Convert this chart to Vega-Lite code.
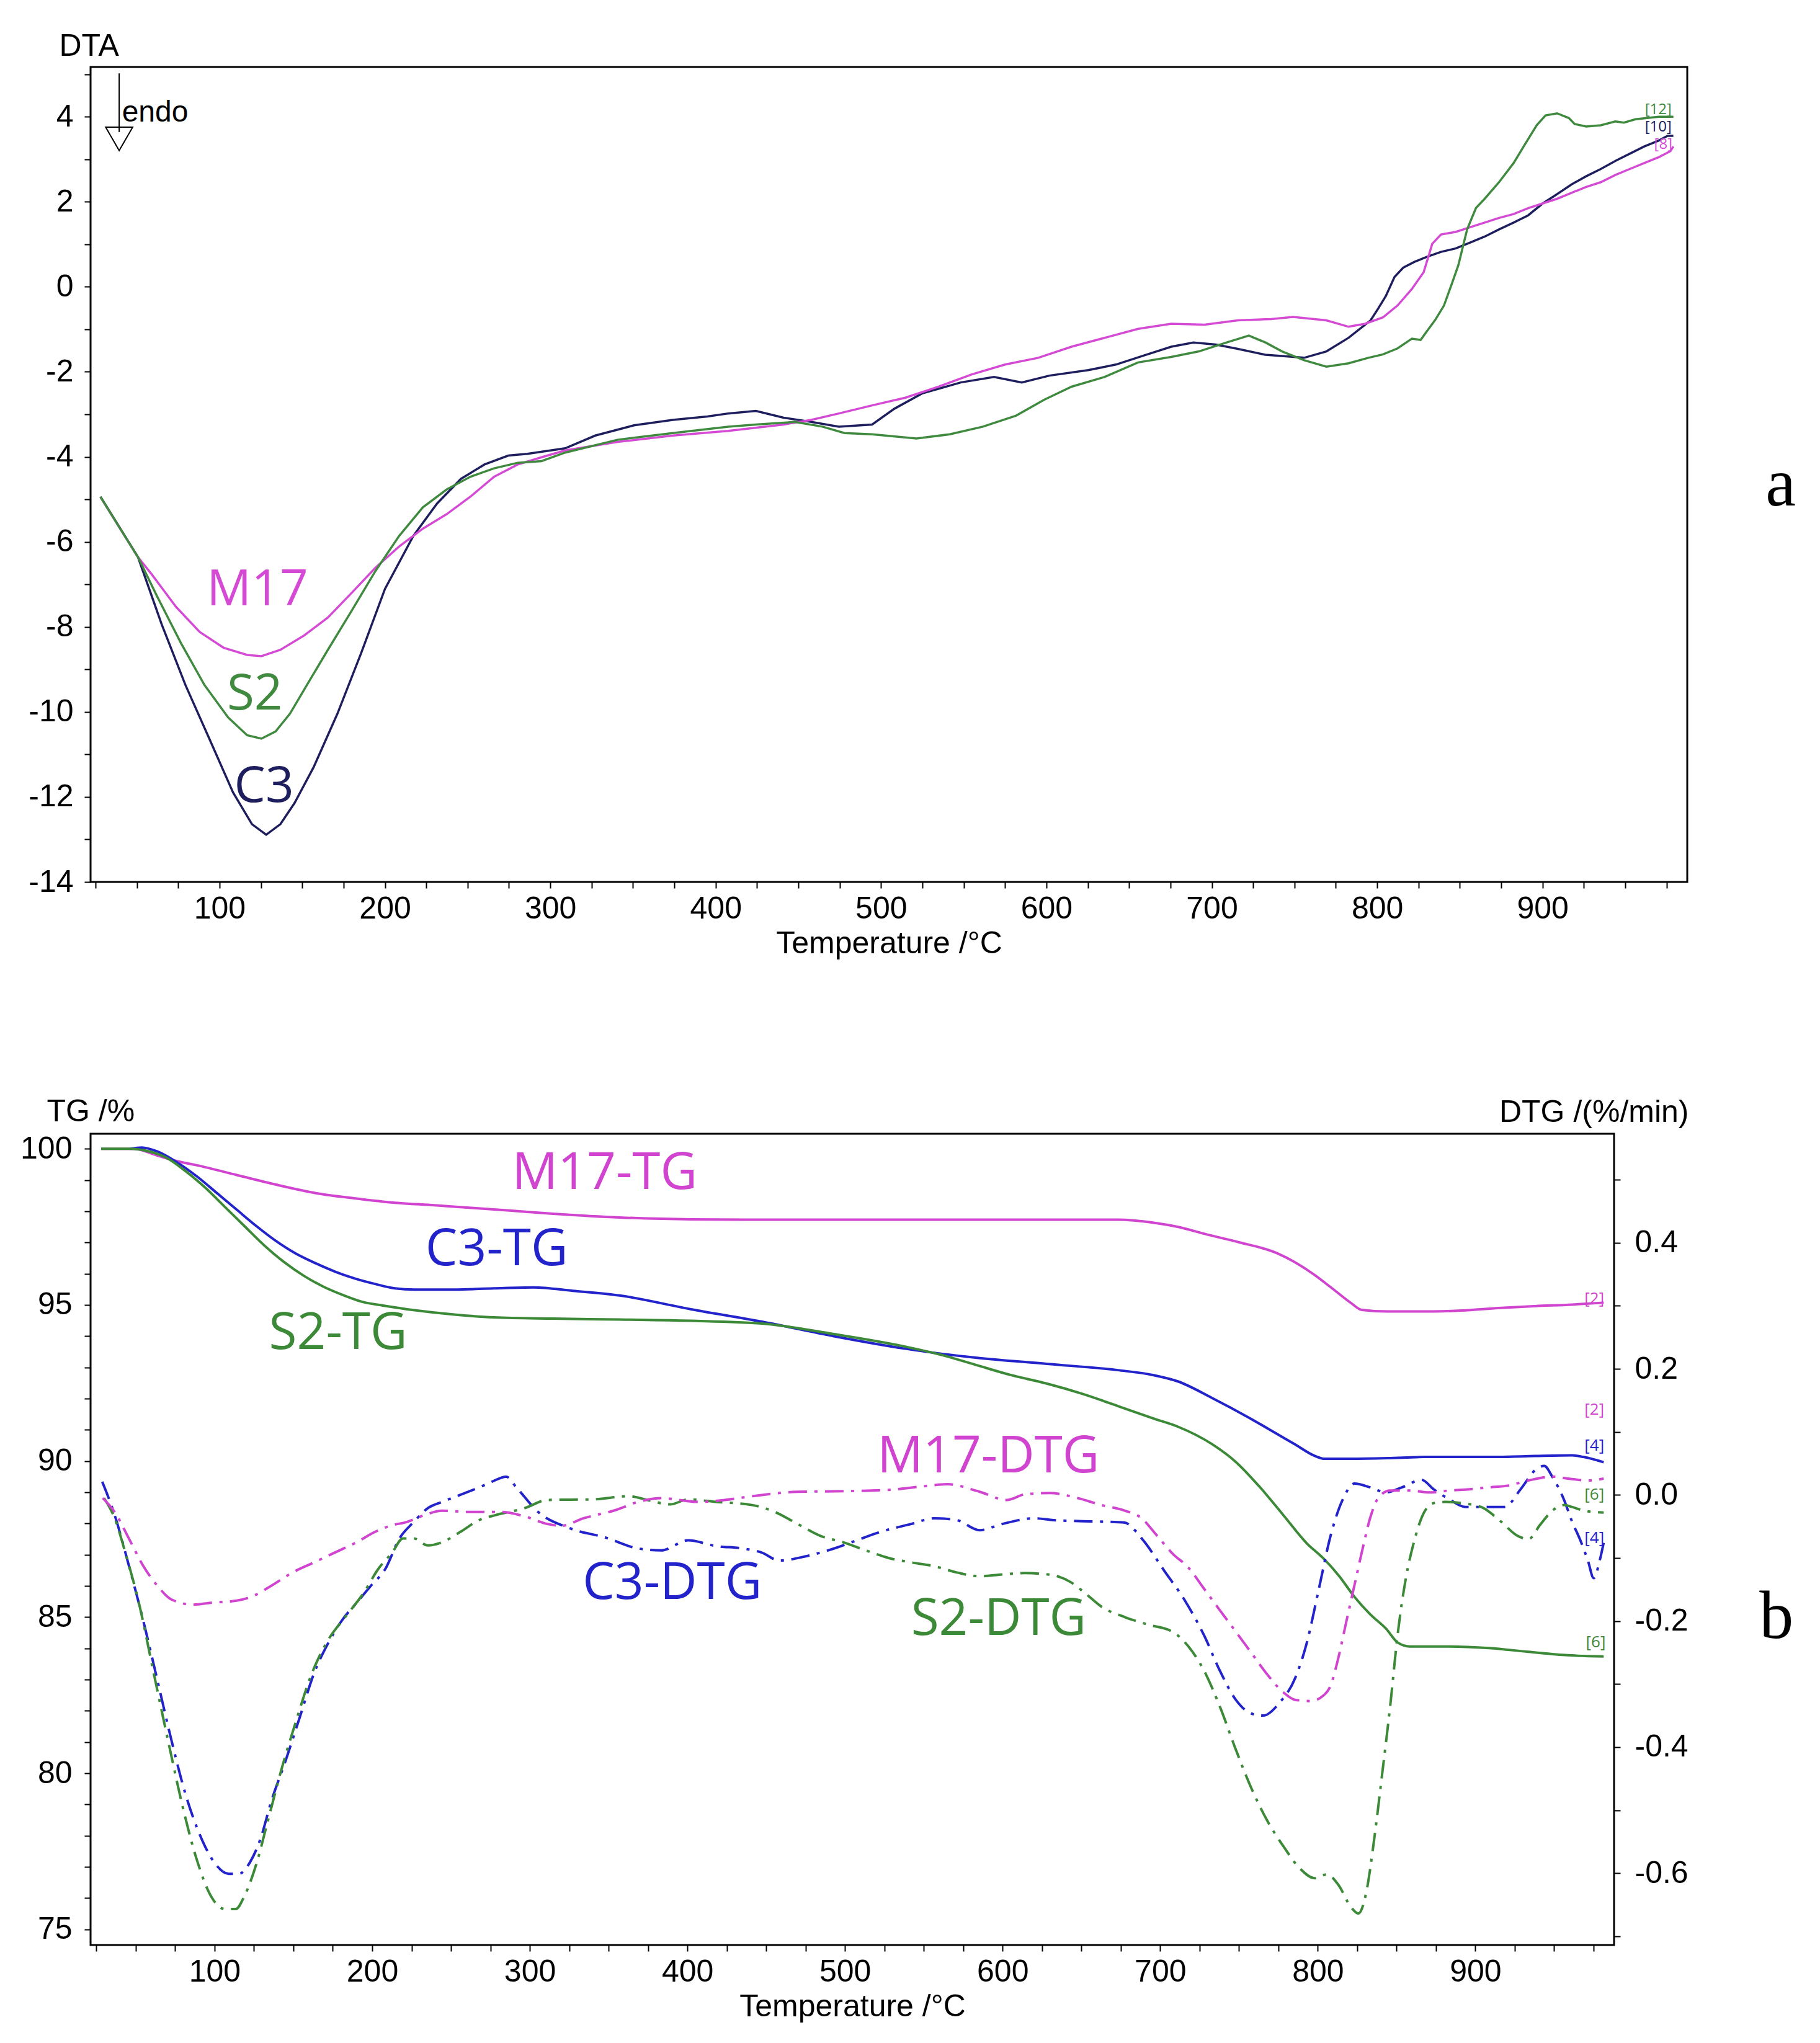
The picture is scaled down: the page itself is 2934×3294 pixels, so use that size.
{
  "$schema": "https://vega.github.io/schema/vega-lite/v6.json",
  "background": "white",
  "padding": {"left": 31, "top": 47, "right": 10, "bottom": 10},
  "bounds": "flush",
  "spacing": 406,
  "resolve": {"scale": {"color": "independent"}},
  "config": {
    "view": {"stroke": "black", "strokeWidth": 3},
    "axis": {
      "domain": false, "grid": false,
      "tickSize": 10, "tickWidth": 2, "tickColor": "black",
      "labelFont": "Liberation Sans", "labelFontSize": 50, "labelColor": "black",
      "titleFont": "Liberation Sans", "titleFontSize": 50, "titleColor": "black", "titleFontWeight": "normal",
      "labelOverlap": false, "labelFlush": false, "labelBound": false
    }
  },
  "datasets": {
    "dta": [
      {"s":"C3","t":28,"v":-4.94},{"s":"C3","t":50.7,"v":-6.36},{"s":"C3","t":65.1,"v":-7.95},{"s":"C3","t":79.4,"v":-9.37},{"s":"C3","t":93.8,"v":-10.63},{"s":"C3","t":108.1,"v":-11.89},{"s":"C3","t":119.6,"v":-12.64},{"s":"C3","t":128.2,"v":-12.89},{"s":"C3","t":136.8,"v":-12.64},{"s":"C3","t":145.4,"v":-12.14},{"s":"C3","t":156.9,"v":-11.3},{"s":"C3","t":171.3,"v":-10.04},{"s":"C3","t":185.6,"v":-8.62},{"s":"C3","t":200,"v":-7.11},{"s":"C3","t":217.2,"v":-5.86},{"s":"C3","t":231.5,"v":-5.1},{"s":"C3","t":245.9,"v":-4.52},{"s":"C3","t":260.2,"v":-4.18},{"s":"C3","t":274.6,"v":-3.97},{"s":"C3","t":286.1,"v":-3.93},{"s":"C3","t":309,"v":-3.8},{"s":"C3","t":327.2,"v":-3.5},{"s":"C3","t":350.6,"v":-3.26},{"s":"C3","t":374.1,"v":-3.13},{"s":"C3","t":395,"v":-3.05},{"s":"C3","t":407.6,"v":-2.98},{"s":"C3","t":424.3,"v":-2.92},{"s":"C3","t":441.1,"v":-3.08},{"s":"C3","t":457.8,"v":-3.18},{"s":"C3","t":474.5,"v":-3.29},{"s":"C3","t":494.6,"v":-3.24},{"s":"C3","t":508,"v":-2.87},{"s":"C3","t":524.8,"v":-2.51},{"s":"C3","t":548.2,"v":-2.25},{"s":"C3","t":568.3,"v":-2.12},{"s":"C3","t":585.1,"v":-2.25},{"s":"C3","t":601.8,"v":-2.09},{"s":"C3","t":625.3,"v":-1.96},{"s":"C3","t":642,"v":-1.83},{"s":"C3","t":658.7,"v":-1.62},{"s":"C3","t":675.5,"v":-1.41},{"s":"C3","t":688.9,"v":-1.31},{"s":"C3","t":702.3,"v":-1.36},{"s":"C3","t":715.7,"v":-1.46},{"s":"C3","t":732.4,"v":-1.6},{"s":"C3","t":755.9,"v":-1.67},{"s":"C3","t":769.3,"v":-1.52},{"s":"C3","t":782.7,"v":-1.2},{"s":"C3","t":796,"v":-0.79},{"s":"C3","t":800,"v":-0.55},{"s":"C3","t":805.2,"v":-0.22},{"s":"C3","t":810.5,"v":0.23},{"s":"C3","t":815.8,"v":0.45},{"s":"C3","t":822.8,"v":0.59},{"s":"C3","t":829.8,"v":0.7},{"s":"C3","t":838.6,"v":0.82},{"s":"C3","t":847.4,"v":0.9},{"s":"C3","t":856.2,"v":1.04},{"s":"C3","t":865,"v":1.18},{"s":"C3","t":873.7,"v":1.35},{"s":"C3","t":882.5,"v":1.51},{"s":"C3","t":891.3,"v":1.68},{"s":"C3","t":900.1,"v":1.96},{"s":"C3","t":908.8,"v":2.18},{"s":"C3","t":917.6,"v":2.41},{"s":"C3","t":926.4,"v":2.6},{"s":"C3","t":935.2,"v":2.77},{"s":"C3","t":944,"v":2.96},{"s":"C3","t":952.7,"v":3.13},{"s":"C3","t":961.5,"v":3.3},{"s":"C3","t":970.3,"v":3.44},{"s":"C3","t":975.6,"v":3.55},{"s":"C3","t":979.1,"v":3.55},
      {"s":"M17","t":28,"v":-4.94},{"s":"M17","t":50.7,"v":-6.36},{"s":"M17","t":59.3,"v":-6.78},{"s":"M17","t":73.7,"v":-7.53},{"s":"M17","t":88,"v":-8.12},{"s":"M17","t":102.4,"v":-8.49},{"s":"M17","t":116.7,"v":-8.66},{"s":"M17","t":125.3,"v":-8.69},{"s":"M17","t":136.8,"v":-8.54},{"s":"M17","t":151.2,"v":-8.2},{"s":"M17","t":165.5,"v":-7.78},{"s":"M17","t":179.9,"v":-7.2},{"s":"M17","t":194.2,"v":-6.61},{"s":"M17","t":208.6,"v":-6.11},{"s":"M17","t":222.9,"v":-5.69},{"s":"M17","t":237.3,"v":-5.35},{"s":"M17","t":251.6,"v":-4.94},{"s":"M17","t":266,"v":-4.47},{"s":"M17","t":280.3,"v":-4.18},{"s":"M17","t":294.7,"v":-4.01},{"s":"M17","t":309,"v":-3.85},{"s":"M17","t":340.6,"v":-3.65},{"s":"M17","t":374.1,"v":-3.5},{"s":"M17","t":407.6,"v":-3.39},{"s":"M17","t":441.1,"v":-3.24},{"s":"M17","t":457.8,"v":-3.13},{"s":"M17","t":474.5,"v":-2.98},{"s":"M17","t":494.6,"v":-2.79},{"s":"M17","t":514.7,"v":-2.61},{"s":"M17","t":534.8,"v":-2.35},{"s":"M17","t":554.9,"v":-2.06},{"s":"M17","t":575,"v":-1.83},{"s":"M17","t":595.1,"v":-1.67},{"s":"M17","t":615.2,"v":-1.41},{"s":"M17","t":635.3,"v":-1.2},{"s":"M17","t":655.4,"v":-0.99},{"s":"M17","t":675.5,"v":-0.87},{"s":"M17","t":695.6,"v":-0.89},{"s":"M17","t":715.7,"v":-0.79},{"s":"M17","t":735.8,"v":-0.76},{"s":"M17","t":749.2,"v":-0.71},{"s":"M17","t":769.3,"v":-0.79},{"s":"M17","t":782.7,"v":-0.94},{"s":"M17","t":792.7,"v":-0.87},{"s":"M17","t":803.5,"v":-0.72},{"s":"M17","t":812.3,"v":-0.44},{"s":"M17","t":821,"v":-0.05},{"s":"M17","t":828.1,"v":0.34},{"s":"M17","t":833.3,"v":1.01},{"s":"M17","t":838.6,"v":1.23},{"s":"M17","t":847.4,"v":1.29},{"s":"M17","t":856.2,"v":1.4},{"s":"M17","t":865,"v":1.51},{"s":"M17","t":873.7,"v":1.62},{"s":"M17","t":882.5,"v":1.71},{"s":"M17","t":891.3,"v":1.85},{"s":"M17","t":900.1,"v":1.96},{"s":"M17","t":908.8,"v":2.07},{"s":"M17","t":917.6,"v":2.21},{"s":"M17","t":926.4,"v":2.35},{"s":"M17","t":935.2,"v":2.46},{"s":"M17","t":944,"v":2.63},{"s":"M17","t":952.7,"v":2.77},{"s":"M17","t":961.5,"v":2.91},{"s":"M17","t":970.3,"v":3.05},{"s":"M17","t":977.3,"v":3.19},{"s":"M17","t":979.1,"v":3.3},
      {"s":"S2","t":28,"v":-4.94},{"s":"S2","t":50.7,"v":-6.36},{"s":"S2","t":62.2,"v":-7.28},{"s":"S2","t":76.5,"v":-8.37},{"s":"S2","t":90.9,"v":-9.37},{"s":"S2","t":105.2,"v":-10.13},{"s":"S2","t":116.7,"v":-10.55},{"s":"S2","t":125.3,"v":-10.63},{"s":"S2","t":133.9,"v":-10.46},{"s":"S2","t":142.6,"v":-10.04},{"s":"S2","t":154,"v":-9.29},{"s":"S2","t":165.5,"v":-8.54},{"s":"S2","t":179.9,"v":-7.62},{"s":"S2","t":194.2,"v":-6.69},{"s":"S2","t":208.6,"v":-5.86},{"s":"S2","t":222.9,"v":-5.19},{"s":"S2","t":237.3,"v":-4.77},{"s":"S2","t":251.6,"v":-4.47},{"s":"S2","t":266,"v":-4.27},{"s":"S2","t":280.3,"v":-4.14},{"s":"S2","t":294.7,"v":-4.1},{"s":"S2","t":309,"v":-3.9},{"s":"S2","t":340.6,"v":-3.6},{"s":"S2","t":374.1,"v":-3.44},{"s":"S2","t":407.6,"v":-3.29},{"s":"S2","t":424.3,"v":-3.24},{"s":"S2","t":447.8,"v":-3.18},{"s":"S2","t":464.5,"v":-3.29},{"s":"S2","t":477.9,"v":-3.44},{"s":"S2","t":494.6,"v":-3.47},{"s":"S2","t":521.4,"v":-3.57},{"s":"S2","t":541.5,"v":-3.47},{"s":"S2","t":561.6,"v":-3.29},{"s":"S2","t":581.7,"v":-3.03},{"s":"S2","t":598.5,"v":-2.66},{"s":"S2","t":615.2,"v":-2.35},{"s":"S2","t":635.3,"v":-2.12},{"s":"S2","t":655.4,"v":-1.78},{"s":"S2","t":675.5,"v":-1.65},{"s":"S2","t":692.2,"v":-1.52},{"s":"S2","t":709,"v":-1.31},{"s":"S2","t":722.4,"v":-1.15},{"s":"S2","t":732.4,"v":-1.31},{"s":"S2","t":742.5,"v":-1.52},{"s":"S2","t":755.9,"v":-1.73},{"s":"S2","t":769.3,"v":-1.88},{"s":"S2","t":782.7,"v":-1.8},{"s":"S2","t":794.7,"v":-1.67},{"s":"S2","t":803.5,"v":-1.59},{"s":"S2","t":812.3,"v":-1.45},{"s":"S2","t":821,"v":-1.22},{"s":"S2","t":826.3,"v":-1.25},{"s":"S2","t":829.8,"v":-1.06},{"s":"S2","t":835.1,"v":-0.78},{"s":"S2","t":840.4,"v":-0.44},{"s":"S2","t":845.6,"v":0.12},{"s":"S2","t":849.1,"v":0.51},{"s":"S2","t":854.4,"v":1.35},{"s":"S2","t":859.7,"v":1.85},{"s":"S2","t":865,"v":2.07},{"s":"S2","t":873.7,"v":2.46},{"s":"S2","t":882.5,"v":2.91},{"s":"S2","t":889.5,"v":3.36},{"s":"S2","t":896.5,"v":3.8},{"s":"S2","t":901.8,"v":4.03},{"s":"S2","t":908.8,"v":4.08},{"s":"S2","t":915.9,"v":3.97},{"s":"S2","t":919.4,"v":3.83},{"s":"S2","t":926.4,"v":3.77},{"s":"S2","t":935.2,"v":3.8},{"s":"S2","t":944,"v":3.89},{"s":"S2","t":949.2,"v":3.86},{"s":"S2","t":956.2,"v":3.94},{"s":"S2","t":963.3,"v":3.97},{"s":"S2","t":970.3,"v":4.0},{"s":"S2","t":979.1,"v":4.0}
    ],
    "dtaText": [
      {"s":"M17","t":122.9,"v":-7.15,"label":"M17","size":80},
      {"s":"S2","t":121.3,"v":-9.6,"label":"S2","size":80},
      {"s":"C3","t":126.9,"v":-11.77,"label":"C3","size":80},
      {"s":"S2","t":970,"v":4.16,"label":"[12]","size":24},
      {"s":"C3","t":970,"v":3.76,"label":"[10]","size":24},
      {"s":"M17","t":973,"v":3.34,"label":"[8]","size":24}
    ],
    "tg": [
      {"s":"M17","t":28,"v":100},{"s":"M17","t":48.7,"v":100},{"s":"M17","t":63.8,"v":99.78},{"s":"M17","t":76.3,"v":99.6},{"s":"M17","t":88.9,"v":99.47},{"s":"M17","t":114,"v":99.16},{"s":"M17","t":139.1,"v":98.85},{"s":"M17","t":164.2,"v":98.58},{"s":"M17","t":189.3,"v":98.41},{"s":"M17","t":214.4,"v":98.27},{"s":"M17","t":239.5,"v":98.19},{"s":"M17","t":264.6,"v":98.1},{"s":"M17","t":289.7,"v":98.01},{"s":"M17","t":314.8,"v":97.92},{"s":"M17","t":357,"v":97.8},{"s":"M17","t":402,"v":97.74},{"s":"M17","t":450,"v":97.73},{"s":"M17","t":560,"v":97.73},{"s":"M17","t":673,"v":97.73},{"s":"M17","t":696,"v":97.63},{"s":"M17","t":711,"v":97.5},{"s":"M17","t":730,"v":97.25},{"s":"M17","t":750.5,"v":97.0},{"s":"M17","t":774,"v":96.66},{"s":"M17","t":797.4,"v":95.98},{"s":"M17","t":809.1,"v":95.53},{"s":"M17","t":820.8,"v":95.07},{"s":"M17","t":827.9,"v":94.84},{"s":"M17","t":844.3,"v":94.79},{"s":"M17","t":867.7,"v":94.79},{"s":"M17","t":891.1,"v":94.82},{"s":"M17","t":914.6,"v":94.9},{"s":"M17","t":938,"v":94.96},{"s":"M17","t":961.5,"v":95.01},{"s":"M17","t":981.4,"v":95.07},
      {"s":"C3","t":46.2,"v":100},{"s":"C3","t":53.8,"v":100.04},{"s":"C3","t":63.8,"v":99.91},{"s":"C3","t":76.3,"v":99.56},{"s":"C3","t":88.9,"v":99.11},{"s":"C3","t":101.5,"v":98.58},{"s":"C3","t":114,"v":98.05},{"s":"C3","t":126.6,"v":97.52},{"s":"C3","t":139.1,"v":97.04},{"s":"C3","t":151.6,"v":96.64},{"s":"C3","t":164.2,"v":96.33},{"s":"C3","t":176.7,"v":96.06},{"s":"C3","t":189.3,"v":95.84},{"s":"C3","t":201.8,"v":95.67},{"s":"C3","t":214.4,"v":95.53},{"s":"C3","t":226.9,"v":95.49},{"s":"C3","t":252.1,"v":95.49},{"s":"C3","t":277.2,"v":95.53},{"s":"C3","t":302.3,"v":95.56},{"s":"C3","t":327.3,"v":95.45},{"s":"C3","t":357,"v":95.3},{"s":"C3","t":402.2,"v":94.86},{"s":"C3","t":447.4,"v":94.46},{"s":"C3","t":492.5,"v":94.0},{"s":"C3","t":537.7,"v":93.6},{"s":"C3","t":560.3,"v":93.44},{"s":"C3","t":582.9,"v":93.31},{"s":"C3","t":628,"v":93.11},{"s":"C3","t":673.2,"v":92.91},{"s":"C3","t":695.8,"v":92.75},{"s":"C3","t":711.2,"v":92.55},{"s":"C3","t":732.9,"v":92.02},{"s":"C3","t":758,"v":91.34},{"s":"C3","t":774,"v":90.87},{"s":"C3","t":785.7,"v":90.53},{"s":"C3","t":797.4,"v":90.18},{"s":"C3","t":804.4,"v":90.07},{"s":"C3","t":820.8,"v":90.07},{"s":"C3","t":844.3,"v":90.09},{"s":"C3","t":867.7,"v":90.13},{"s":"C3","t":891.1,"v":90.13},{"s":"C3","t":914.6,"v":90.13},{"s":"C3","t":938,"v":90.16},{"s":"C3","t":961.5,"v":90.18},{"s":"C3","t":968.5,"v":90.13},{"s":"C3","t":981.4,"v":89.96},
      {"s":"S2","t":28,"v":100},{"s":"S2","t":46.2,"v":100},{"s":"S2","t":58.8,"v":99.91},{"s":"S2","t":68.8,"v":99.73},{"s":"S2","t":81.4,"v":99.29},{"s":"S2","t":93.9,"v":98.76},{"s":"S2","t":106.5,"v":98.14},{"s":"S2","t":119,"v":97.52},{"s":"S2","t":131.6,"v":96.9},{"s":"S2","t":144.1,"v":96.37},{"s":"S2","t":156.7,"v":95.93},{"s":"S2","t":169.2,"v":95.58},{"s":"S2","t":181.8,"v":95.31},{"s":"S2","t":194.3,"v":95.09},{"s":"S2","t":206.9,"v":94.98},{"s":"S2","t":226.9,"v":94.83},{"s":"S2","t":252.1,"v":94.69},{"s":"S2","t":277.2,"v":94.6},{"s":"S2","t":314.8,"v":94.56},{"s":"S2","t":357,"v":94.53},{"s":"S2","t":402.2,"v":94.49},{"s":"S2","t":447.4,"v":94.4},{"s":"S2","t":492.5,"v":94.07},{"s":"S2","t":537.7,"v":93.67},{"s":"S2","t":560.3,"v":93.41},{"s":"S2","t":582.9,"v":93.08},{"s":"S2","t":605.5,"v":92.75},{"s":"S2","t":628,"v":92.48},{"s":"S2","t":650.7,"v":92.15},{"s":"S2","t":673.2,"v":91.76},{"s":"S2","t":695.8,"v":91.36},{"s":"S2","t":711.2,"v":91.1},{"s":"S2","t":732.9,"v":90.54},{"s":"S2","t":748,"v":89.97},{"s":"S2","t":763,"v":89.18},{"s":"S2","t":778.1,"v":88.27},{"s":"S2","t":793.1,"v":87.36},{"s":"S2","t":803.2,"v":86.9},{"s":"S2","t":813.2,"v":86.34},{"s":"S2","t":823.3,"v":85.65},{"s":"S2","t":833.3,"v":85.09},{"s":"S2","t":843.3,"v":84.63},{"s":"S2","t":850.9,"v":84.18},{"s":"S2","t":858.4,"v":84.06},{"s":"S2","t":883.5,"v":84.06},{"s":"S2","t":908.6,"v":84.01},{"s":"S2","t":933.7,"v":83.89},{"s":"S2","t":958.8,"v":83.78},{"s":"S2","t":981.4,"v":83.74}
    ],
    "tgText": [
      {"s":"M17","t":347.5,"v":99.21,"label":"M17-TG"},
      {"s":"C3","t":279,"v":96.77,"label":"C3-TG"},
      {"s":"S2","t":178.4,"v":94.08,"label":"S2-TG"}
    ],
    "dtg": [
      {"s":"C3","t":28.7,"v":0.021},{"s":"C3","t":36.6,"v":-0.032},{"s":"C3","t":45.6,"v":-0.112},{"s":"C3","t":54.6,"v":-0.198},{"s":"C3","t":63.7,"v":-0.294},{"s":"C3","t":72.7,"v":-0.39},{"s":"C3","t":81.7,"v":-0.476},{"s":"C3","t":90.8,"v":-0.54},{"s":"C3","t":99.8,"v":-0.583},{"s":"C3","t":108.9,"v":-0.601},{"s":"C3","t":115.6,"v":-0.601},{"s":"C3","t":122.4,"v":-0.583},{"s":"C3","t":129.2,"v":-0.545},{"s":"C3","t":136,"v":-0.486},{"s":"C3","t":145,"v":-0.422},{"s":"C3","t":154,"v":-0.353},{"s":"C3","t":163.1,"v":-0.283},{"s":"C3","t":172.1,"v":-0.235},{"s":"C3","t":181.1,"v":-0.198},{"s":"C3","t":190.2,"v":-0.171},{"s":"C3","t":199.2,"v":-0.144},{"s":"C3","t":208.2,"v":-0.118},{"s":"C3","t":217.3,"v":-0.069},{"s":"C3","t":226.3,"v":-0.043},{"s":"C3","t":235.3,"v":-0.021},{"s":"C3","t":244.4,"v":-0.011},{"s":"C3","t":255.7,"v":0.0},{"s":"C3","t":267,"v":0.011},{"s":"C3","t":276,"v":0.021},{"s":"C3","t":285,"v":0.029},{"s":"C3","t":291.8,"v":0.011},{"s":"C3","t":305.3,"v":-0.027},{"s":"C3","t":325.5,"v":-0.053},{"s":"C3","t":348.6,"v":-0.068},{"s":"C3","t":368.8,"v":-0.085},{"s":"C3","t":383.3,"v":-0.088},{"s":"C3","t":400.6,"v":-0.072},{"s":"C3","t":417.9,"v":-0.081},{"s":"C3","t":435.3,"v":-0.085},{"s":"C3","t":446.8,"v":-0.091},{"s":"C3","t":458.4,"v":-0.104},{"s":"C3","t":475.7,"v":-0.097},{"s":"C3","t":493,"v":-0.085},{"s":"C3","t":507.5,"v":-0.072},{"s":"C3","t":521.9,"v":-0.059},{"s":"C3","t":542.1,"v":-0.046},{"s":"C3","t":556.6,"v":-0.037},{"s":"C3","t":571,"v":-0.04},{"s":"C3","t":585.4,"v":-0.056},{"s":"C3","t":599.9,"v":-0.046},{"s":"C3","t":620.1,"v":-0.037},{"s":"C3","t":632.5,"v":-0.04},{"s":"C3","t":657.6,"v":-0.042},{"s":"C3","t":677.7,"v":-0.044},{"s":"C3","t":682.7,"v":-0.053},{"s":"C3","t":690.2,"v":-0.075},{"s":"C3","t":702.8,"v":-0.121},{"s":"C3","t":715.3,"v":-0.166},{"s":"C3","t":727.9,"v":-0.223},{"s":"C3","t":737.9,"v":-0.279},{"s":"C3","t":748,"v":-0.325},{"s":"C3","t":758,"v":-0.347},{"s":"C3","t":765.5,"v":-0.35},{"s":"C3","t":775.6,"v":-0.33},{"s":"C3","t":785.6,"v":-0.291},{"s":"C3","t":793.1,"v":-0.234},{"s":"C3","t":800.7,"v":-0.149},{"s":"C3","t":808.2,"v":-0.064},{"s":"C3","t":815.7,"v":-0.008},{"s":"C3","t":823.3,"v":0.018},{"s":"C3","t":833.3,"v":0.012},{"s":"C3","t":843.3,"v":0.004},{"s":"C3","t":853.4,"v":0.012},{"s":"C3","t":865.9,"v":0.024},{"s":"C3","t":873.5,"v":0.009},{"s":"C3","t":883.5,"v":-0.007},{"s":"C3","t":893.5,"v":-0.019},{"s":"C3","t":908.6,"v":-0.019},{"s":"C3","t":918.6,"v":-0.019},{"s":"C3","t":928.7,"v":0.009},{"s":"C3","t":938.7,"v":0.041},{"s":"C3","t":943.7,"v":0.046},{"s":"C3","t":948.8,"v":0.029},{"s":"C3","t":956.3,"v":-0.008},{"s":"C3","t":961.3,"v":-0.042},{"s":"C3","t":966.3,"v":-0.07},{"s":"C3","t":971.4,"v":-0.104},{"s":"C3","t":975.1,"v":-0.132},{"s":"C3","t":978.9,"v":-0.104},{"s":"C3","t":981.4,"v":-0.076},
      {"s":"S2","t":29.8,"v":-0.005},{"s":"S2","t":36.6,"v":-0.037},{"s":"S2","t":43.3,"v":-0.091},{"s":"S2","t":52.4,"v":-0.176},{"s":"S2","t":61.4,"v":-0.283},{"s":"S2","t":70.5,"v":-0.39},{"s":"S2","t":79.5,"v":-0.492},{"s":"S2","t":88.5,"v":-0.577},{"s":"S2","t":97.6,"v":-0.636},{"s":"S2","t":106.6,"v":-0.657},{"s":"S2","t":113.4,"v":-0.657},{"s":"S2","t":119,"v":-0.636},{"s":"S2","t":126.9,"v":-0.582},{"s":"S2","t":133.7,"v":-0.518},{"s":"S2","t":142.7,"v":-0.433},{"s":"S2","t":151.8,"v":-0.358},{"s":"S2","t":160.8,"v":-0.289},{"s":"S2","t":172.1,"v":-0.23},{"s":"S2","t":183.4,"v":-0.192},{"s":"S2","t":194.7,"v":-0.155},{"s":"S2","t":203.7,"v":-0.118},{"s":"S2","t":212.8,"v":-0.091},{"s":"S2","t":219.5,"v":-0.069},{"s":"S2","t":226.3,"v":-0.069},{"s":"S2","t":235.3,"v":-0.08},{"s":"S2","t":244.4,"v":-0.075},{"s":"S2","t":255.7,"v":-0.059},{"s":"S2","t":267.8,"v":-0.04},{"s":"S2","t":278.3,"v":-0.032},{"s":"S2","t":296.7,"v":-0.021},{"s":"S2","t":311.1,"v":-0.008},{"s":"S2","t":340,"v":-0.007},{"s":"S2","t":363.1,"v":-0.002},{"s":"S2","t":374.6,"v":-0.008},{"s":"S2","t":389.1,"v":-0.015},{"s":"S2","t":400.6,"v":-0.007},{"s":"S2","t":417.9,"v":-0.011},{"s":"S2","t":441,"v":-0.016},{"s":"S2","t":455.5,"v":-0.027},{"s":"S2","t":469.9,"v":-0.046},{"s":"S2","t":484.4,"v":-0.065},{"s":"S2","t":498.8,"v":-0.075},{"s":"S2","t":513.2,"v":-0.088},{"s":"S2","t":527.7,"v":-0.1},{"s":"S2","t":542.1,"v":-0.107},{"s":"S2","t":556.6,"v":-0.113},{"s":"S2","t":571,"v":-0.123},{"s":"S2","t":585.4,"v":-0.129},{"s":"S2","t":599.9,"v":-0.126},{"s":"S2","t":614.3,"v":-0.124},{"s":"S2","t":628.7,"v":-0.126},{"s":"S2","t":643,"v":-0.138},{"s":"S2","t":652,"v":-0.155},{"s":"S2","t":662.6,"v":-0.177},{"s":"S2","t":677.7,"v":-0.194},{"s":"S2","t":692.7,"v":-0.206},{"s":"S2","t":707.8,"v":-0.217},{"s":"S2","t":717.8,"v":-0.24},{"s":"S2","t":727.9,"v":-0.279},{"s":"S2","t":737.9,"v":-0.336},{"s":"S2","t":748,"v":-0.404},{"s":"S2","t":758,"v":-0.466},{"s":"S2","t":768,"v":-0.517},{"s":"S2","t":778.1,"v":-0.557},{"s":"S2","t":788.1,"v":-0.591},{"s":"S2","t":798.2,"v":-0.608},{"s":"S2","t":805.7,"v":-0.602},{"s":"S2","t":813.2,"v":-0.619},{"s":"S2","t":820.8,"v":-0.653},{"s":"S2","t":825.8,"v":-0.664},{"s":"S2","t":830.8,"v":-0.63},{"s":"S2","t":835.8,"v":-0.546},{"s":"S2","t":840.8,"v":-0.444},{"s":"S2","t":845.9,"v":-0.336},{"s":"S2","t":850.9,"v":-0.217},{"s":"S2","t":855.9,"v":-0.132},{"s":"S2","t":860.9,"v":-0.076},{"s":"S2","t":865.9,"v":-0.036},{"s":"S2","t":873.5,"v":-0.013},{"s":"S2","t":881,"v":-0.011},{"s":"S2","t":891,"v":-0.013},{"s":"S2","t":903.6,"v":-0.019},{"s":"S2","t":916.1,"v":-0.042},{"s":"S2","t":926.2,"v":-0.064},{"s":"S2","t":933.7,"v":-0.07},{"s":"S2","t":941.2,"v":-0.047},{"s":"S2","t":948.8,"v":-0.025},{"s":"S2","t":956.3,"v":-0.016},{"s":"S2","t":961.3,"v":-0.019},{"s":"S2","t":968.8,"v":-0.025},{"s":"S2","t":981.4,"v":-0.028},
      {"s":"M17","t":29,"v":-0.005},{"s":"M17","t":36.6,"v":-0.027},{"s":"M17","t":45.6,"v":-0.069},{"s":"M17","t":54.6,"v":-0.112},{"s":"M17","t":63.7,"v":-0.144},{"s":"M17","t":72.7,"v":-0.166},{"s":"M17","t":86.3,"v":-0.174},{"s":"M17","t":97.6,"v":-0.171},{"s":"M17","t":113.4,"v":-0.168},{"s":"M17","t":124.7,"v":-0.16},{"s":"M17","t":136,"v":-0.144},{"s":"M17","t":149.5,"v":-0.123},{"s":"M17","t":163.1,"v":-0.107},{"s":"M17","t":176.6,"v":-0.091},{"s":"M17","t":190.2,"v":-0.075},{"s":"M17","t":201.5,"v":-0.059},{"s":"M17","t":212.8,"v":-0.048},{"s":"M17","t":221.8,"v":-0.043},{"s":"M17","t":233.1,"v":-0.032},{"s":"M17","t":244.4,"v":-0.025},{"s":"M17","t":262,"v":-0.027},{"s":"M17","t":282.2,"v":-0.027},{"s":"M17","t":296.7,"v":-0.034},{"s":"M17","t":311.1,"v":-0.046},{"s":"M17","t":319.8,"v":-0.049},{"s":"M17","t":334.2,"v":-0.037},{"s":"M17","t":354.4,"v":-0.024},{"s":"M17","t":368.8,"v":-0.011},{"s":"M17","t":383.3,"v":-0.005},{"s":"M17","t":406.4,"v":-0.011},{"s":"M17","t":423.7,"v":-0.008},{"s":"M17","t":441,"v":-0.002},{"s":"M17","t":469.9,"v":0.005},{"s":"M17","t":498.8,"v":0.006},{"s":"M17","t":527.7,"v":0.008},{"s":"M17","t":550.8,"v":0.014},{"s":"M17","t":565.2,"v":0.017},{"s":"M17","t":585.4,"v":0.005},{"s":"M17","t":602.7,"v":-0.008},{"s":"M17","t":614.3,"v":0.001},{"s":"M17","t":630,"v":0.003},{"s":"M17","t":647.6,"v":-0.005},{"s":"M17","t":662.6,"v":-0.016},{"s":"M17","t":677.7,"v":-0.025},{"s":"M17","t":687.7,"v":-0.036},{"s":"M17","t":697.8,"v":-0.064},{"s":"M17","t":707.8,"v":-0.093},{"s":"M17","t":717.8,"v":-0.115},{"s":"M17","t":727.9,"v":-0.149},{"s":"M17","t":737.9,"v":-0.183},{"s":"M17","t":748,"v":-0.217},{"s":"M17","t":758,"v":-0.251},{"s":"M17","t":768,"v":-0.285},{"s":"M17","t":778.1,"v":-0.313},{"s":"M17","t":785.6,"v":-0.325},{"s":"M17","t":795.6,"v":-0.327},{"s":"M17","t":803.2,"v":-0.319},{"s":"M17","t":808.2,"v":-0.302},{"s":"M17","t":813.2,"v":-0.257},{"s":"M17","t":818.2,"v":-0.2},{"s":"M17","t":823.3,"v":-0.143},{"s":"M17","t":828.3,"v":-0.087},{"s":"M17","t":833.3,"v":-0.036},{"s":"M17","t":838.3,"v":-0.005},{"s":"M17","t":845.9,"v":0.007},{"s":"M17","t":858.4,"v":0.007},{"s":"M17","t":871,"v":0.004},{"s":"M17","t":883.5,"v":0.007},{"s":"M17","t":896.1,"v":0.009},{"s":"M17","t":908.6,"v":0.012},{"s":"M17","t":921.2,"v":0.015},{"s":"M17","t":933.7,"v":0.023},{"s":"M17","t":948.8,"v":0.029},{"s":"M17","t":958.8,"v":0.026},{"s":"M17","t":971.4,"v":0.023},{"s":"M17","t":981.4,"v":0.026}
    ],
    "dtgText": [
      {"s":"M17","t":591,"v":0.06,"label":"M17-DTG","size":82},
      {"s":"C3","t":390.4,"v":-0.14,"label":"C3-DTG","size":82},
      {"s":"S2","t":597.5,"v":-0.197,"label":"S2-DTG","size":82},
      {"s":"M17","t":975.5,"v":0.311,"label":"[2]","size":26},
      {"s":"M17","t":975.5,"v":0.135,"label":"[2]","size":26},
      {"s":"C3","t":975.5,"v":0.078,"label":"[4]","size":26},
      {"s":"S2","t":975.5,"v":0.0,"label":"[6]","size":26},
      {"s":"C3","t":975.5,"v":-0.069,"label":"[4]","size":26},
      {"s":"S2","t":976.4,"v":-0.234,"label":"[6]","size":26}
    ]
  },
  "vconcat": [
    {
      "width": 2574,
      "height": 1314,
      "encoding": {
        "x": {
          "field": "t", "type": "quantitative",
          "scale": {"domain": [22, 987.5], "nice": false, "zero": false},
          "axis": {
            "title": "Temperature /°C", "titlePadding": 6, "labelPadding": 8,
            "values": [25,50,75,100,125,150,175,200,225,250,275,300,325,350,375,400,425,450,475,500,525,550,575,600,625,650,675,700,725,750,775,800,825,850,875,900,925,950,975],
            "labelExpr": "datum.value % 100 == 0 ? '' + datum.value : ''"
          }
        },
        "y": {
          "field": "v", "type": "quantitative",
          "scale": {"domain": [-14, 5.17], "nice": false, "zero": false},
          "axis": {
            "title": "DTA", "titleAngle": 0, "titleAlign": "left", "titleBaseline": "alphabetic",
            "titleX": -51, "titleY": -19, "labelPadding": 18,
            "values": [-14,-13,-12,-11,-10,-9,-8,-7,-6,-5,-4,-3,-2,-1,0,1,2,3,4,5],
            "labelExpr": "datum.value % 2 == 0 ? '' + datum.value : ''"
          }
        }
      },
      "layer": [
        {
          "data": {"name": "dta"},
          "mark": {"type": "line", "strokeWidth": 3.5},
          "encoding": {
            "color": {"field": "s", "type": "nominal", "legend": null,
              "scale": {"domain": ["M17", "S2", "C3"], "range": ["#d44ad4", "#3f8a3f", "#1e1e5e"]}}
          }
        },
        {
          "data": {"name": "dtaText"},
          "mark": {"type": "text", "font": "Open Sans", "align": "center", "baseline": "middle"},
          "encoding": {
            "text": {"field": "label"},
            "size": {"field": "size", "type": "quantitative", "scale": null},
            "color": {"field": "s", "type": "nominal", "legend": null}
          }
        },
        {
          "data": {"values": [{"t": 39.3, "v": 5.02, "v2": 3.64}]},
          "mark": {"type": "rule", "color": "black", "strokeWidth": 2},
          "encoding": {"y2": {"field": "v2"}}
        },
        {
          "data": {"values": [{"t": 39.3, "v": 3.48}]},
          "mark": {"type": "point", "shape": "triangle-down", "filled": false, "stroke": "black", "strokeWidth": 2, "size": 1900, "opacity": 1}
        },
        {
          "data": {"values": [{"t": 41, "v": 3.88, "label": "endo"}]},
          "mark": {"type": "text", "font": "Liberation Sans", "fontSize": 48, "align": "left", "baseline": "alphabetic", "color": "black"},
          "encoding": {"text": {"field": "label"}}
        },
        {
          "data": {"values": [{"t": 1044, "v": -4.66, "label": "a"}]},
          "mark": {"type": "text", "font": "Liberation Serif", "fontSize": 110, "align": "center", "baseline": "middle", "color": "black"},
          "encoding": {"text": {"field": "label"}}
        }
      ]
    },
    {
      "width": 2456,
      "height": 1308,
      "encoding": {
        "x": {
          "field": "t", "type": "quantitative",
          "scale": {"domain": [21.3, 988], "nice": false, "zero": false},
          "axis": {
            "title": "Temperature /°C", "titlePadding": 6, "labelPadding": 8,
            "values": [25,50,75,100,125,150,175,200,225,250,275,300,325,350,375,400,425,450,475,500,525,550,575,600,625,650,675,700,725,750,775,800,825,850,875,900,925,950,975],
            "labelExpr": "datum.value % 100 == 0 ? '' + datum.value : ''"
          }
        }
      },
      "layer": [
        {
          "encoding": {
            "y": {
              "field": "v", "type": "quantitative",
              "scale": {"domain": [74.5, 100.48], "nice": false, "zero": false},
              "axis": {
                "title": "TG /%", "titleAngle": 0, "titleAlign": "left", "titleBaseline": "alphabetic",
                "titleX": -71, "titleY": -21, "labelPadding": 20,
                "values": [75,76,77,78,79,80,81,82,83,84,85,86,87,88,89,90,91,92,93,94,95,96,97,98,99,100],
                "labelExpr": "datum.value % 5 == 0 ? '' + datum.value : ''"
              }
            }
          },
          "layer": [
            {
              "data": {"name": "tg"},
              "mark": {"type": "line", "strokeWidth": 4, "interpolate": "monotone"},
              "encoding": {
                "color": {"field": "s", "type": "nominal", "legend": null,
                  "scale": {"domain": ["M17", "S2", "C3"], "range": ["#d044d0", "#3c8a38", "#2323cc"]}}
              }
            },
            {
              "data": {"name": "tgText"},
              "mark": {"type": "text", "font": "Open Sans", "fontSize": 82, "align": "center", "baseline": "middle"},
              "encoding": {
                "text": {"field": "label"},
                "color": {"field": "s", "type": "nominal", "legend": null}
              }
            },
            {
              "data": {"values": [{"t": 1091, "v": 84.99, "label": "b"}]},
              "mark": {"type": "text", "font": "Liberation Serif", "fontSize": 110, "align": "center", "baseline": "middle", "color": "black"},
              "encoding": {"text": {"field": "label"}}
            }
          ]
        },
        {
          "encoding": {
            "y": {
              "field": "v", "type": "quantitative",
              "scale": {"domain": [-0.714, 0.573], "nice": false, "zero": false},
              "axis": {
                "orient": "right", "title": "DTG /(%/min)", "titleAngle": 0, "titleAlign": "right", "titleBaseline": "alphabetic",
                "titleX": 120, "titleY": -20, "labelPadding": 23,
                "values": [-0.7,-0.6,-0.5,-0.4,-0.3,-0.2,-0.1,0,0.1,0.2,0.3,0.4,0.5],
                "labelExpr": "abs(round(datum.value * 10)) % 2 == 0 ? (datum.value < -0.01 ? '-' : '') + format(abs(datum.value), '.1f') : ''"
              }
            }
          },
          "layer": [
            {
              "data": {"name": "dtg"},
              "mark": {"type": "line", "strokeWidth": 4, "interpolate": "monotone", "strokeDash": [30, 12, 5, 12]},
              "encoding": {
                "color": {"field": "s", "type": "nominal", "legend": null}
              }
            },
            {
              "data": {"name": "dtgText"},
              "mark": {"type": "text", "font": "Open Sans", "align": "center", "baseline": "middle"},
              "encoding": {
                "text": {"field": "label"},
                "size": {"field": "size", "type": "quantitative", "scale": null},
                "color": {"field": "s", "type": "nominal", "legend": null}
              }
            }
          ]
        }
      ],
      "resolve": {"scale": {"y": "independent"}}
    }
  ]
}
